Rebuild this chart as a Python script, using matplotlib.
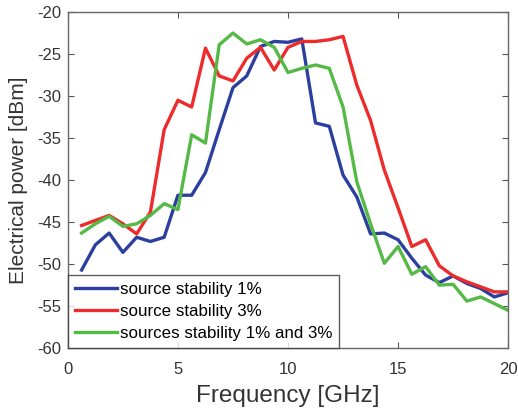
import matplotlib.pyplot as plt
import numpy as np

# frequencies: 0.625 GHz steps
freq = np.arange(1, 33) * 0.625

stab_1 = [-50.7, -47.7, -46.3, -48.6, -46.8, -47.3, -46.8, -41.8,
          -41.8, -39.1, -34.0, -29.0, -27.6, -24.1, -23.5, -23.6,
          -23.2, -33.2, -33.6, -39.4, -42.0, -46.4, -46.3, -47.1,
          -49.3, -51.3, -52.2, -51.4, -52.3, -52.9, -53.9, -53.4]
stab_3 = [-45.4, -44.8, -44.2, -45.2, -46.4, -43.8, -34.0, -30.5,
          -31.3, -24.3, -27.6, -28.2, -25.5, -24.2, -26.9, -24.2,
          -23.5, -23.5, -23.3, -22.9, -28.7, -32.9, -38.8, -43.3,
          -47.9, -47.1, -50.2, -51.4, -52.1, -52.7, -53.3, -53.3]
stab_both = [-46.3, -45.2, -44.3, -45.5, -45.2, -44.2, -42.8, -43.5,
             -34.6, -35.6, -23.9, -22.5, -23.8, -23.3, -24.2, -27.2,
             -26.7, -26.3, -26.7, -31.3, -40.2, -45.2, -49.9, -47.9,
             -51.2, -50.3, -52.5, -52.4, -54.4, -53.9, -54.7, -55.5]

labels = ['source stability 1%', 'source stability 3%',
          'sources stability 1% and 3%']
colors = ['#2b3f9e', '#ee2b2b', '#55b946']

plt.rcParams['font.family'] = ['Liberation Sans', 'DejaVu Sans']
plt.rcParams['axes.unicode_minus'] = False

fig = plt.figure(figsize=(5.18, 4.15), dpi=100)
ax = fig.add_axes([0.131, 0.161, 0.850, 0.810])

for vals, lab, col in zip([stab_1, stab_3, stab_both], labels, colors):
    ax.plot(freq, vals, color=col, linewidth=2.4, label=lab)

ax.set_xlim(0, 20)
ax.set_ylim(-60, -20)
ax.set_xticks([0, 5, 10, 15, 20])
ax.set_yticks(np.arange(-60, -19, 5))
ax.tick_params(axis='both', direction='in', top=True, right=True,
               labelsize=12, length=4, color='#555555',
               labelcolor='#333333')
ax.tick_params(axis='x', pad=10)
ax.tick_params(axis='y', pad=5)
for sp in ax.spines.values():
    sp.set_color('#666666')
    sp.set_linewidth(1.0)

ax.set_xlabel('Frequency [GHz]', fontsize=17.5, color='#333333', labelpad=6)
ax.set_ylabel('Electrical power [dBm]', fontsize=15, color='#333333',
              labelpad=6)

leg = ax.legend(loc='lower left', fontsize=12.2, frameon=True, fancybox=False,
                borderaxespad=0, handlelength=2.5, handletextpad=0.15,
                labelspacing=0.42, borderpad=0.4)
leg.get_frame().set_edgecolor('#333333')
leg.get_frame().set_linewidth(1.0)

fig.savefig('out.png', dpi=100)
